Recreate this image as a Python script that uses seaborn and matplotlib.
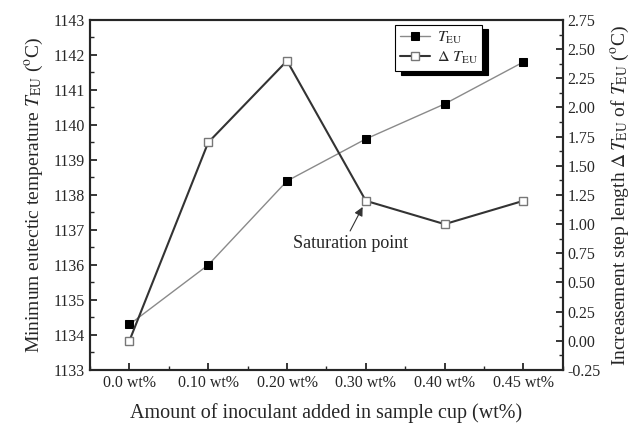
import numpy as np
import matplotlib
matplotlib.use("Agg")
import matplotlib.pyplot as plt
import seaborn as sns
from matplotlib.ticker import MultipleLocator

# Data
categories = ["0.0 wt%", "0.10 wt%", "0.20 wt%", "0.30 wt%", "0.40 wt%", "0.45 wt%"]
t_eu = [1134.3, 1136.0, 1138.4, 1139.6, 1140.6, 1141.8]
delta_t_eu = [0.0, 1.7, 2.4, 1.2, 1.0, 1.2]

sns.set_style("ticks")
plt.rcParams["font.family"] = ["Liberation Serif", "DejaVu Serif"]
plt.rcParams["mathtext.fontset"] = "stix"

x = np.arange(len(categories))

fig = plt.figure(figsize=(6.36, 4.34), dpi=100)
ax = fig.add_axes([0.1415, 0.1475, 0.7435, 0.8065])
ax2 = ax.twinx()

sns.lineplot(x=x, y=t_eu, ax=ax, color="#8a8a8a", lw=1.0, marker="s",
             markersize=6, markerfacecolor="black", markeredgecolor="black",
             label=r"$T_{\rm EU}$", legend=False)
sns.lineplot(x=x, y=delta_t_eu, ax=ax2, color="#333333", lw=1.5, marker="s",
             markersize=6, markerfacecolor="white", markeredgecolor="#777777",
             markeredgewidth=1.0, label=r"$\Delta\ T_{\rm EU}$", legend=False)

ax.set_xlim(-0.5, 5.5)
ax.set_ylim(1133, 1143)
ax2.set_ylim(-0.25, 2.75)
ax.set_xticks(x)
ax.set_xticklabels(categories)
ax.xaxis.set_minor_locator(MultipleLocator(0.5))
ax.yaxis.set_major_locator(MultipleLocator(1))
ax.yaxis.set_minor_locator(MultipleLocator(0.5))
ax2.yaxis.set_minor_locator(MultipleLocator(0.125))
ax2.set_yticks(np.arange(-0.25, 2.76, 0.25))
ax2.set_yticklabels([f"{v:.2f}" for v in np.arange(-0.25, 2.76, 0.25)])

for a in (ax, ax2):
    for s in a.spines.values():
        s.set_linewidth(1.5)
        s.set_visible(True)
ax.tick_params(axis="both", which="major", direction="in", length=5, width=1.3,
               labelsize=11.5, top=False, right=False)
ax.tick_params(axis="both", which="minor", direction="in", length=3, width=1.0,
               top=False, right=False)
ax2.tick_params(axis="y", which="major", direction="in", length=5, width=1.3, labelsize=11.5)
ax2.tick_params(axis="y", which="minor", direction="in", length=3, width=1.0)

ax.set_xlabel("Amount of inoculant added in sample cup (wt%)", fontsize=14.5, labelpad=9)
ax.set_ylabel(r"Minimum eutectic temperature $T_{\rm EU}$ ($^{\rm o}$C)", fontsize=14, labelpad=6)
ax2.set_ylabel(r"Increasement step length $\Delta\,T_{\rm EU}$ of $T_{\rm EU}$ ($^{\rm o}$C)",
               fontsize=14, labelpad=6)

ax2.annotate("Saturation point", xy=(3, 1.2), xytext=(2.8, 0.83),
             ha="center", va="center", fontsize=13,
             arrowprops=dict(arrowstyle="-|>,head_length=0.4,head_width=0.2",
                             color="#333333", lw=0.8, shrinkA=1, shrinkB=5,
                             relpos=(0.48, 1.0)))

h1, l1 = ax.get_legend_handles_labels()
h2, l2 = ax2.get_legend_handles_labels()
leg = ax2.legend(h1 + h2, l1 + l2, loc="upper left", bbox_to_anchor=(0.645, 0.986),
                 borderaxespad=0, fontsize=11.5, frameon=True, fancybox=False,
                 handlelength=1.9, borderpad=0.3, labelspacing=0.25, handletextpad=0.4,
                 shadow={"color": "black", "alpha": 1.0, "ox": 4, "oy": -3})
leg.get_frame().set_edgecolor("black")
leg.get_frame().set_linewidth(0.8)

fig.savefig("out.png", dpi=100)
